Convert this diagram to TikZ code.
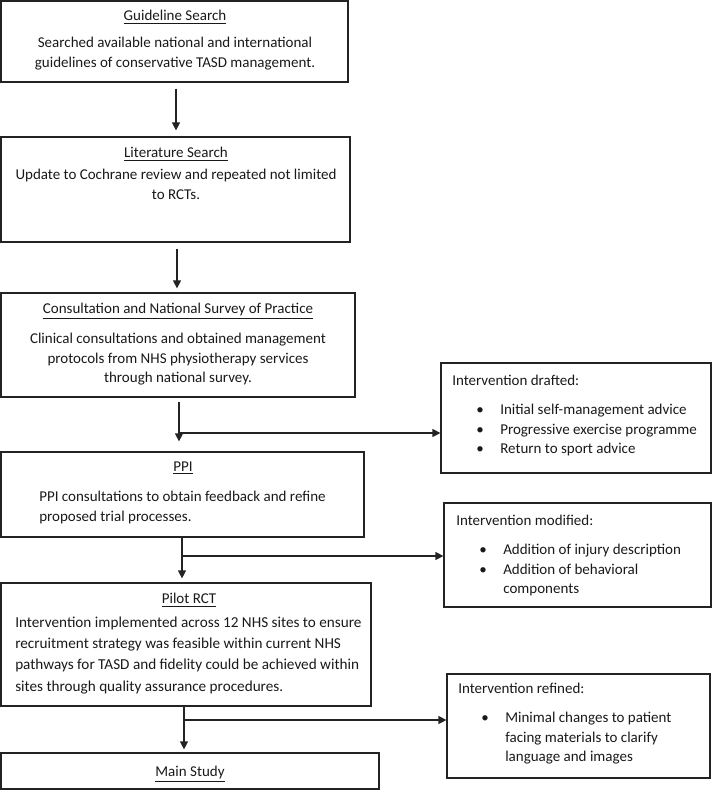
\documentclass[tikz,border=0pt]{standalone}
\usepackage{fontspec}
\setmainfont{Carlito}
\usetikzlibrary{arrows.meta,calc,fit}
\definecolor{lc}{RGB}{35,35,35}
\definecolor{tc}{RGB}{25,25,25}
\newcommand{\fs}{\fontsize{11.25pt}{14.6pt}\selectfont}
\newcommand{\fsw}{\fontsize{11.4pt}{16pt}\selectfont}
\newcommand{\bl}{\makebox[18pt][l]{•}}
\begin{document}
\begin{tikzpicture}[x=0.75pt,y=-0.75pt,
  box/.style={draw=lc, line width=0.9pt, inner sep=0pt},
  txt/.style={inner sep=0pt, font=\fs, text=tc, align=center, anchor=north},
  ltxt/.style={inner sep=0pt, font=\fs, text=tc, align=left, anchor=north west},
  arr/.style={draw=lc, line width=0.9pt, -{Triangle[length=6pt,width=6pt]}}]
\useasboundingbox (0,0) rectangle (714,791);

% left column boxes
\node[box, fit={(1,1)(348,82)}] (b1) {};
\node[box, fit={(1,137)(350,242)}] (b2) {};
\node[box, fit={(1,293)(355,397)}] (b3) {};
\node[box, fit={(1,452)(364,537)}] (b4) {};
\node[box, fit={(1,583)(371,706)}] (b5) {};
\node[box, fit={(1,753)(379,789)}] (b6) {};
% right column boxes
\node[box, fit={(441,363)(711,473)}] (d1) {};
\node[box, fit={(444,503)(711,607)}] (d2) {};
\node[box, fit={(447,674)(710,778)}] (d3) {};

% texts
\node[txt] (t1a) at (175,7) {\strut\underline{Guideline Search}};
\node[txt] (t1b) at (175,34) {\strut Searched available national and international\\guidelines of conservative TASD management.};
\node[txt] (t2a) at (176,144) {\strut\underline{Literature Search}};
\node[txt] (t2b) at (176,166) {\strut Update to Cochrane review and repeated not limited\\to RCTs.};
\node[txt] (t3a) at (178,300) {\strut\underline{Consultation and National Survey of Practice}};
\node[txt] (t3b) at (178,330) {\strut Clinical consultations and obtained management\\protocols from NHS physiotherapy services\\through national survey.};
\node[txt] (t4a) at (183,458) {\strut\underline{PPI}};
\node[ltxt] (t4b) at (39,488) {\strut PPI consultations to obtain feedback and refine\\proposed trial processes.};
\node[txt] (t5a) at (189,590) {\strut\underline{Pilot RCT}};
\node[ltxt, font=\fsw] (t5b) at (15,612) {\strut Intervention implemented across 12 NHS sites to ensure\\recruitment strategy was feasible within current NHS\\pathways for TASD and fidelity could be achieved within\\sites through quality assurance procedures.};
\node[txt] (t6a) at (190,763) {\strut\underline{Main Study}};

\node[ltxt] (r1a) at (452,372) {\strut Intervention drafted:};
\node[ltxt] (r1b) at (476,401) {\strut\bl Initial self-management advice\\\bl Progressive exercise programme\\\bl Return to sport advice};
\node[ltxt] (r2a) at (456,512) {\strut Intervention modified:};
\node[ltxt] (r2b) at (479,541) {\strut\bl Addition of injury description\\\bl Addition of behavioral\\\hspace*{18pt}components};
\node[ltxt] (r3a) at (458,680) {\strut Intervention refined:};
\node[ltxt] (r3b) at (481,709) {\strut\bl Minimal changes to patient\\\hspace*{18pt}facing materials to clarify\\\hspace*{18pt}language and images};

% junction coordinates
\coordinate (x1) at (176,0);
\coordinate (x2) at (177,0);
\coordinate (j1) at (179,433);
\coordinate (j2) at (182,556);
\coordinate (j3) at (184,720);

% connectors
\draw[arr] ($(b1.south -| x1)+(0,6)$) -- ($(b2.north -| x1)+(0,-6)$);
\draw[arr] ($(b2.south -| x2)+(0,6)$) -- ($(b3.north -| x2)+(0,-4)$);
\draw[arr] ($(b3.south -| j1)+(0,4)$) -- ($(b4.north -| j1)+(0,-10)$);
\draw[arr] (j1) -- (d1.west |- j1);
\draw[arr] (b4.south -| j2) -- ($(b5.north -| j2)+(0,-4)$);
\draw[arr] (j2) -- (d2.west |- j2);
\draw[arr] (b5.south -| j3) -- ($(b6.north -| j3)+(0,-3)$);
\draw[arr] (j3) -- (d3.west |- j3);
\end{tikzpicture}
\end{document}
